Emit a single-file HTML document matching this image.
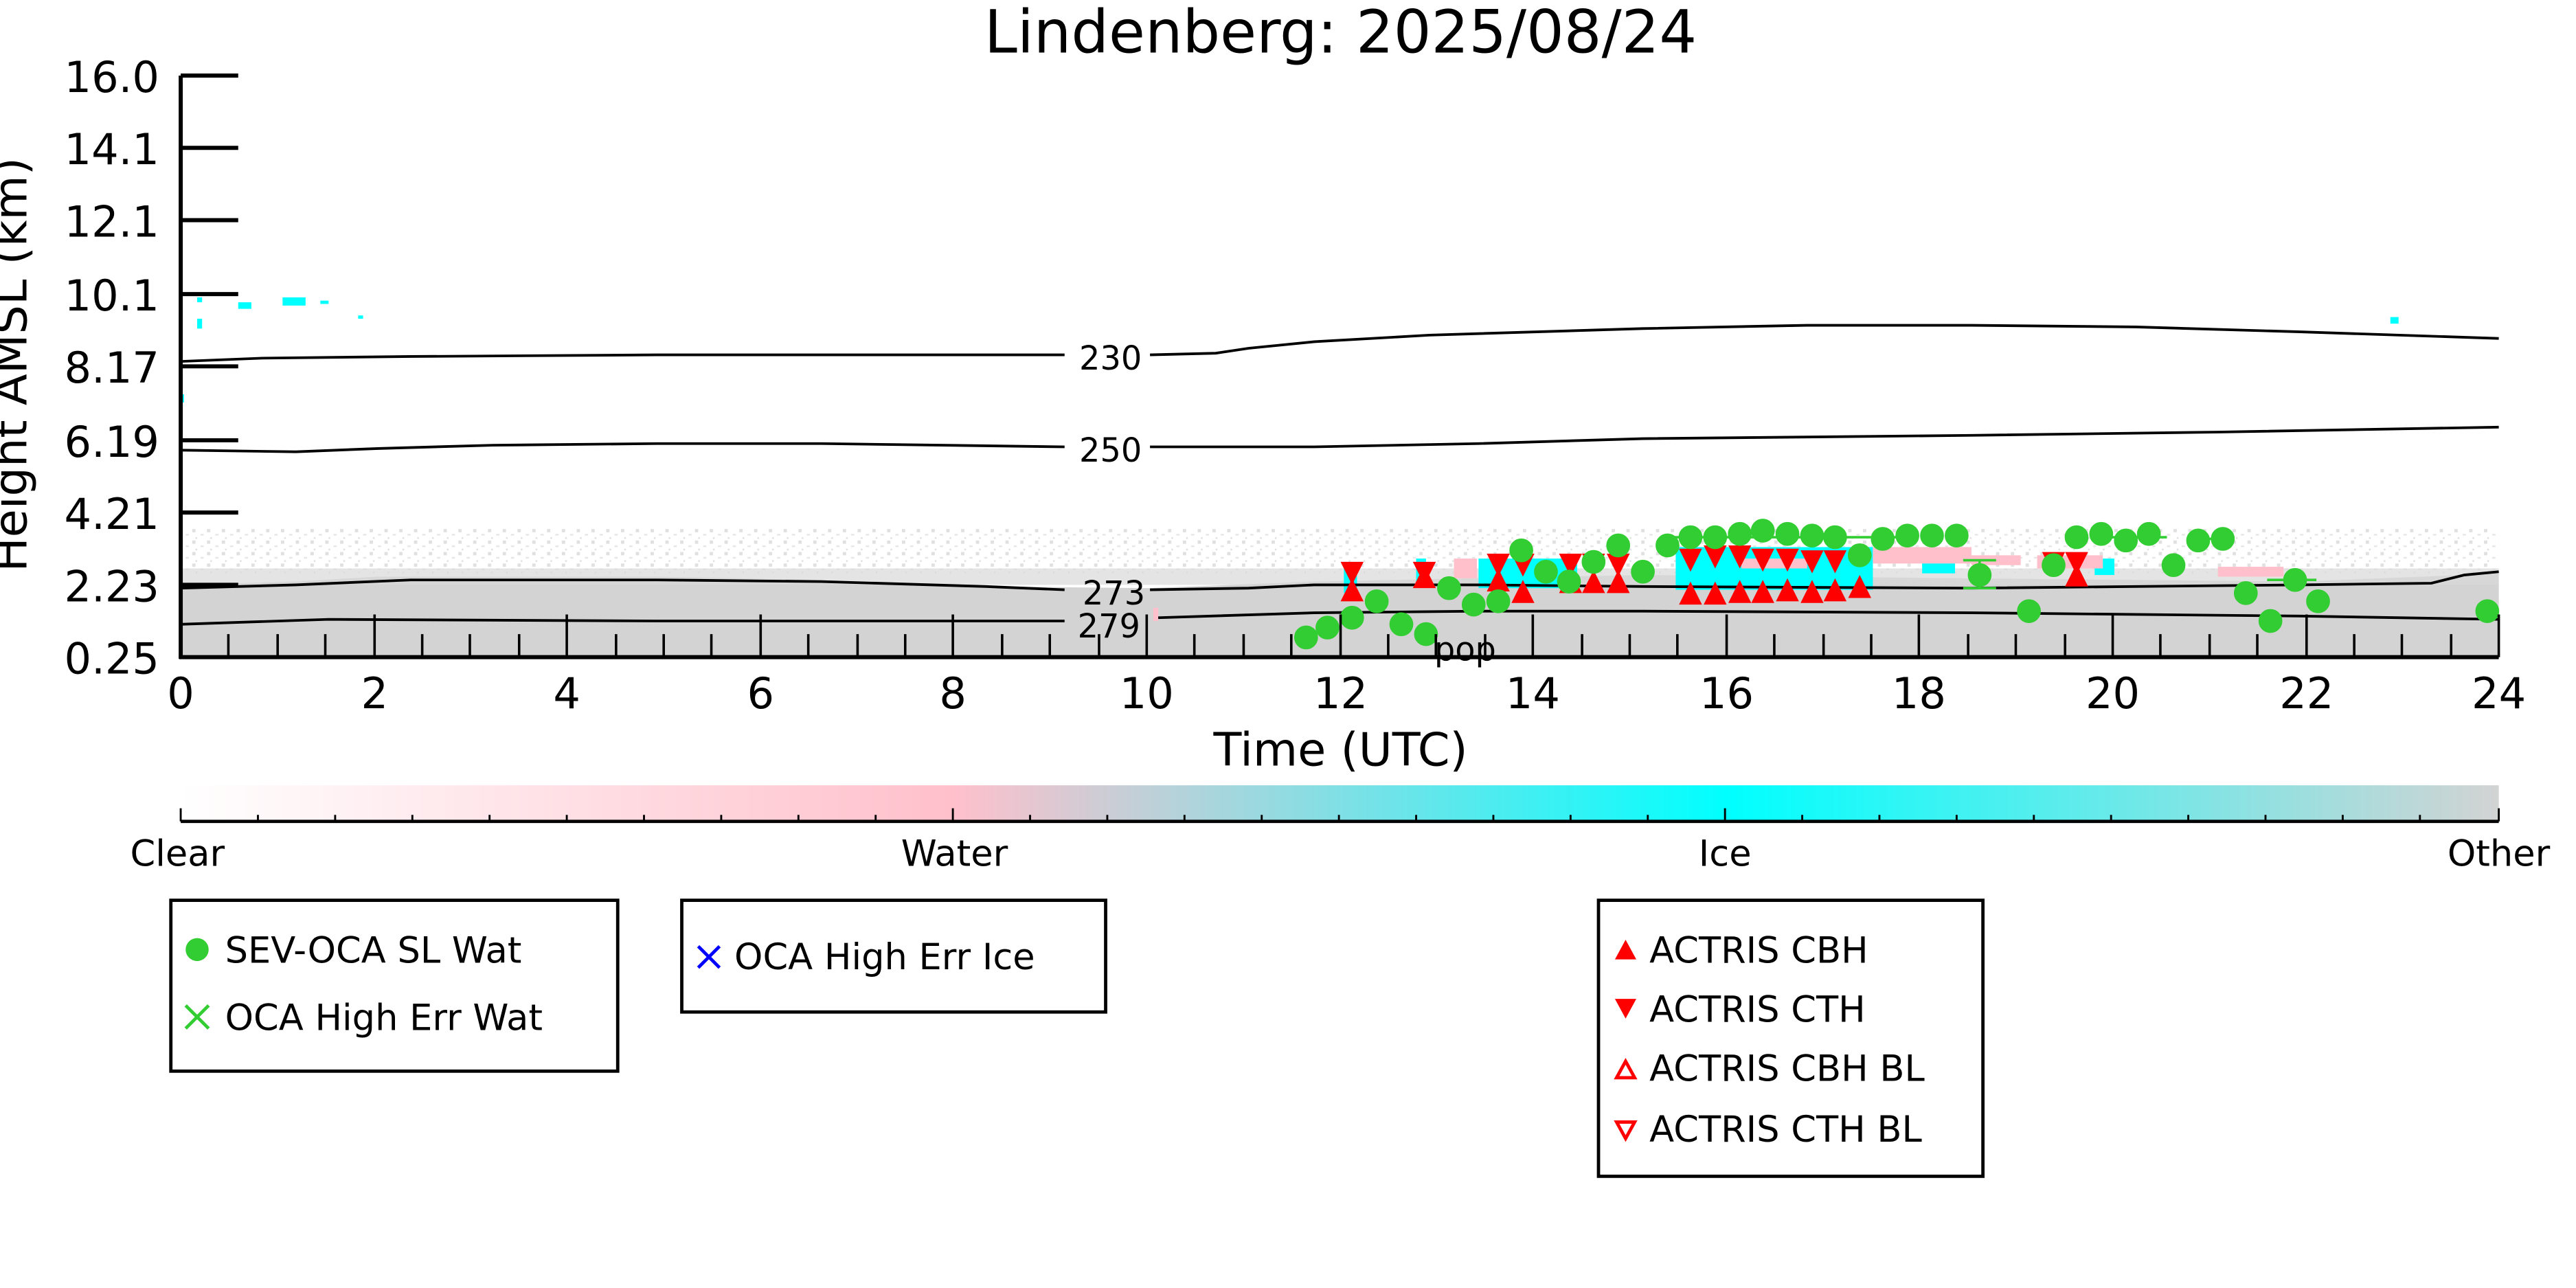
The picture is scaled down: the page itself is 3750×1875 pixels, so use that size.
<!DOCTYPE html>
<html><head><meta charset="utf-8"><style>
html,body{margin:0;padding:0;background:#fff}
svg{display:block}
text{font-family:"DejaVu Sans","Liberation Sans",sans-serif;fill:#000}
</style></head><body>
<svg width="3750" height="1875" viewBox="0 0 1568 784" xmlns="http://www.w3.org/2000/svg">
<defs>
<linearGradient id="cb" x1="0" x2="1" y1="0" y2="0">
<stop offset="0" stop-color="#ffffff"/>
<stop offset="0.333" stop-color="#ffc0cb"/>
<stop offset="0.667" stop-color="#00ffff"/>
<stop offset="1" stop-color="#d3d3d3"/>
</linearGradient>
<pattern id="spk" width="9" height="7" patternUnits="userSpaceOnUse">
<rect x="0" y="0" width="2" height="2" fill="#d8d8d8"/><rect x="5" y="3" width="2" height="1" fill="#e0e0e0"/><rect x="2" y="5" width="1" height="1" fill="#d5d5d5"/>
</pattern>
</defs>
<text x="816" y="32" font-size="36" text-anchor="middle">Lindenberg: 2025/08/24</text>
<rect x="112" y="322" width="1409" height="28" fill="url(#spk)" opacity="0.8"/>
<polygon fill="#d3d3d3" points="110,356 180,354 230,351 400,351 500,353 600,357 700,358 800,354 1000,350 1200,352 1400,354 1500,350 1521,348 1521,400 110,400"/>
<rect x="110" y="346" width="1411" height="10" fill="#d9d9d9" opacity="0.7"/>
<g fill="#00ffff">
<rect x="120" y="181" width="3" height="3"/><rect x="145" y="184" width="8" height="4"/><rect x="172" y="181" width="14" height="5"/><rect x="195" y="183" width="5" height="2"/><rect x="218" y="192" width="3" height="2"/><rect x="120" y="194" width="3" height="6"/><rect x="110" y="240" width="2" height="5"/><rect x="1455" y="193" width="5" height="4"/>
<rect x="818" y="345" width="8" height="16"/><rect x="862" y="340" width="6" height="14"/>
<rect x="900" y="340" width="60" height="18"/><rect x="1020" y="333" width="120" height="26"/>
<rect x="1170" y="341" width="20" height="8"/><rect x="1275" y="340" width="12" height="10"/>
</g>
<g fill="#ffc0cb">
<rect x="885" y="340" width="14" height="12"/><rect x="1140" y="333" width="60" height="10"/><rect x="1200" y="338" width="30" height="6"/><rect x="1240" y="338" width="40" height="8"/><rect x="1350" y="345" width="40" height="6"/><rect x="702" y="370" width="3" height="8"/><rect x="1060" y="340" width="40" height="6"/>
</g>
<g fill="none" stroke="#000" stroke-width="1.6">
<polyline points="110,220 160,218 250,217 400,216 648,216"/>
<polyline points="700,216 740,215 760,212 800,208 870,204 1000,200 1100,198 1200,198 1300,199 1400,202 1521,206"/>
<polyline points="110,274 180,275 230,273 300,271 400,270 500,270 648,272"/>
<polyline points="700,272 800,272 900,270 1000,267 1200,265 1350,263 1521,260"/>
<polyline points="110,358 180,356 250,353 400,353 500,354 600,357 648,359"/>
<polyline points="700,359 760,358 800,356 900,356 1000,357 1200,358 1400,356 1480,355 1500,350 1521,348"/>
<polyline points="110,380 200,377 400,378 648,378"/>
<polyline points="705,376 800,373 900,372 1000,372 1200,373 1400,375 1521,377"/>
</g>
<g font-size="20">
<rect x="652" y="206" width="46" height="22" fill="#fff"/>
<text x="676" y="225" text-anchor="middle">230</text>
<text x="676" y="281" text-anchor="middle">250</text>
<text x="678" y="368" text-anchor="middle">273</text>
<text x="675" y="388" text-anchor="middle">279</text>
<text x="873" y="402" font-size="20">pop</text>
</g>
<g fill="#ff0000">
<path d="M816,342h14l-7,14z M860,342h14l-7,14z M905,337h14l-7,14z M920,337h14l-7,14z M949,337h14l-7,14z M963,337h14l-7,14z M978,337h14l-7,14z M1022,334h14l-7,14z M1037,332h14l-7,14z M1052,332h14l-7,14z M1066,334h14l-7,14z M1081,334h14l-7,14z M1096,335h14l-7,14z M1110,335h14l-7,14z M1243,336h14l-7,14z M1257,336h14l-7,14z"/>
<path d="M816,366h14l-7,-14z M860,358h14l-7,-14z M905,360h14l-7,-14z M920,367h14l-7,-14z M949,361h14l-7,-14z M963,361h14l-7,-14z M978,361h14l-7,-14z M1022,368h14l-7,-14z M1037,368h14l-7,-14z M1052,367h14l-7,-14z M1066,367h14l-7,-14z M1081,366h14l-7,-14z M1096,367h14l-7,-14z M1110,366h14l-7,-14z M1125,364h14l-7,-14z M1257,357h14l-7,-14z"/>
</g>
<g fill="#32cd32" stroke="#32cd32" stroke-width="1.5">
<circle cx="795" cy="388" r="6.5"/><circle cx="808" cy="382" r="6.5"/><circle cx="823" cy="376" r="6.5"/><circle cx="838" cy="366" r="6.5"/><circle cx="853" cy="380" r="6.5"/><circle cx="868" cy="386" r="6.5"/><circle cx="882" cy="358" r="6.5"/><circle cx="897" cy="368" r="6.5"/><circle cx="912" cy="366" r="6.5"/><circle cx="926" cy="335" r="6.5"/><circle cx="941" cy="348" r="6.5"/><circle cx="955" cy="354" r="6.5"/><circle cx="970" cy="342" r="6.5"/><circle cx="985" cy="332" r="6.5"/><circle cx="1000" cy="348" r="6.5"/><circle cx="1015" cy="332" r="6.5"/><circle cx="1029" cy="327" r="6.5"/><circle cx="1044" cy="327" r="6.5"/><circle cx="1059" cy="325" r="6.5"/><circle cx="1073" cy="323" r="6.5"/><circle cx="1088" cy="325" r="6.5"/><circle cx="1103" cy="326" r="6.5"/><circle cx="1117" cy="327" r="6.5"/><circle cx="1132" cy="338" r="6.5"/><circle cx="1146" cy="328" r="6.5"/><circle cx="1161" cy="326" r="6.5"/><circle cx="1176" cy="326" r="6.5"/><circle cx="1191" cy="326" r="6.5"/><circle cx="1205" cy="350" r="6.5"/><circle cx="1235" cy="372" r="6.5"/><circle cx="1250" cy="344" r="6.5"/><circle cx="1264" cy="327" r="6.5"/><circle cx="1279" cy="325" r="6.5"/><circle cx="1294" cy="329" r="6.5"/><circle cx="1308" cy="325" r="6.5"/><circle cx="1323" cy="344" r="6.5"/><circle cx="1338" cy="329" r="6.5"/><circle cx="1353" cy="328" r="6.5"/><circle cx="1367" cy="361" r="6.5"/><circle cx="1382" cy="378" r="6.5"/><circle cx="1397" cy="353" r="6.5"/><circle cx="1411" cy="366" r="6.5"/><circle cx="1514" cy="372" r="6.5"/>
<path fill="none" d="M1195,341h20 M1195,358h20 M1205,341v17 M1016,327h145 M1279,327h40 M1338,328h22 M1380,353h30"/>
</g>
<g stroke="#000" fill="none">
<line x1="110" y1="46" x2="110" y2="401" stroke-width="2.5"/>
<line x1="109" y1="400" x2="1521" y2="400" stroke-width="2.5"/>
<path stroke-width="2.5" d="M110,46h35 M110,90h35 M110,134h35 M110,179h35 M110,223h35 M110,268h35 M110,312h35 M110,356h35"/>
<path stroke-width="1.5" d="M228,400v-26 M345,400v-26 M463,400v-26 M580,400v-26 M698,400v-26 M816,400v-26 M933,400v-26 M1051,400v-26 M1168,400v-26 M1286,400v-26 M1404,400v-26 M1521,400v-26
M139,400v-14 M169,400v-14 M198,400v-14 M257,400v-14 M286,400v-14 M316,400v-14 M375,400v-14 M404,400v-14 M433,400v-14 M492,400v-14 M522,400v-14 M551,400v-14 M610,400v-14 M639,400v-14 M669,400v-14 M727,400v-14 M757,400v-14 M786,400v-14 M845,400v-14 M874,400v-14 M904,400v-14 M963,400v-14 M992,400v-14 M1021,400v-14 M1080,400v-14 M1110,400v-14 M1139,400v-14 M1198,400v-14 M1227,400v-14 M1257,400v-14 M1315,400v-14 M1345,400v-14 M1374,400v-14 M1433,400v-14 M1462,400v-14 M1492,400v-14"/>
</g>
<g font-size="26" text-anchor="end">
<text x="97" y="56">16.0</text><text x="97" y="100">14.1</text><text x="97" y="144">12.1</text><text x="97" y="189">10.1</text><text x="97" y="233">8.17</text><text x="97" y="278">6.19</text><text x="97" y="322">4.21</text><text x="97" y="366">2.23</text><text x="97" y="410">0.25</text>
</g>
<text transform="translate(16,222) rotate(-90)" font-size="28" text-anchor="middle">Height AMSL (km)</text>
<g font-size="26" text-anchor="middle">
<text x="110" y="431">0</text><text x="228" y="431">2</text><text x="345" y="431">4</text><text x="463" y="431">6</text><text x="580" y="431">8</text><text x="698" y="431">10</text><text x="816" y="431">12</text><text x="933" y="431">14</text><text x="1051" y="431">16</text><text x="1168" y="431">18</text><text x="1286" y="431">20</text><text x="1404" y="431">22</text><text x="1521" y="431">24</text>
</g>
<text x="816" y="466" font-size="28" text-anchor="middle">Time (UTC)</text>
<rect x="110" y="478" width="1411" height="22" fill="url(#cb)"/>
<line x1="110" y1="500" x2="1521" y2="500" stroke="#000" stroke-width="2"/>
<g stroke="#000" stroke-width="1.2">
<path d="M110,500v-8 M157,500v-4 M204,500v-4 M251,500v-4 M298,500v-4 M345,500v-4 M392,500v-4 M439,500v-4 M486,500v-4 M533,500v-4 M580,500v-8 M627,500v-4 M674,500v-4 M721,500v-4 M768,500v-4 M815,500v-4 M862,500v-4 M909,500v-4 M956,500v-4 M1003,500v-4 M1050,500v-8 M1097,500v-4 M1144,500v-4 M1191,500v-4 M1238,500v-4 M1285,500v-4 M1332,500v-4 M1379,500v-4 M1426,500v-4 M1473,500v-4 M1521,500v-8"/>
</g>
<g font-size="22" text-anchor="middle">
<text x="108" y="527">Clear</text><text x="581" y="527">Water</text><text x="1050" y="527">Ice</text><text x="1521" y="527">Other</text>
</g>
<g fill="#fff" stroke="#000" stroke-width="2">
<rect x="104" y="548" width="272" height="104"/>
<rect x="415" y="548" width="258" height="68"/>
<rect x="973" y="548" width="234" height="168"/>
</g>
<g font-size="22">
<circle cx="120" cy="578" r="7" fill="#32cd32"/>
<text x="137" y="586">SEV-OCA SL Wat</text>
<path d="M113,612l14,14M127,612l-14,14" stroke="#32cd32" stroke-width="2"/>
<text x="137" y="627">OCA High Err Wat</text>
<path d="M425,576l13,13M438,576l-13,13" stroke="#0000ff" stroke-width="2"/>
<text x="447" y="590">OCA High Err Ice</text>
<path d="M983,584h13l-6.5,-12z" fill="#ff0000"/>
<text x="1004" y="586">ACTRIS CBH</text>
<path d="M983,608h13l-6.5,12z" fill="#ff0000"/>
<text x="1004" y="622">ACTRIS CTH</text>
<path d="M984,656h11l-5.5,-10z" fill="none" stroke="#ff0000" stroke-width="2"/>
<text x="1004" y="658">ACTRIS CBH BL</text>
<path d="M984,683h11l-5.5,10z" fill="none" stroke="#ff0000" stroke-width="2"/>
<text x="1004" y="695">ACTRIS CTH BL</text>
</g>
</svg>
</body></html>
